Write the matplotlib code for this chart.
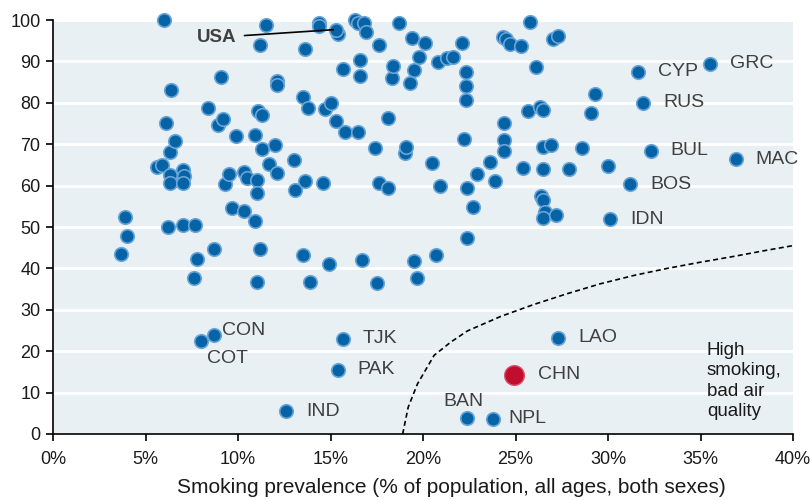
import numpy as np
import matplotlib.pyplot as plt

plt.rcParams['font.family'] = ['Liberation Sans', 'DejaVu Sans']

# smoking prevalence (%) / air quality score, unlabelled countries
smoke = [3.7, 3.9, 4.0, 5.6, 5.9, 6.0, 6.1, 6.2, 6.3, 6.3, 6.3, 6.4, 6.6,
         7.0, 7.1, 7.0, 7.0, 7.7, 7.6, 7.8,
         8.4, 8.7, 8.9, 9.1, 9.2, 9.3, 9.5, 9.7, 9.9,
         10.3, 10.3, 10.5, 10.9, 10.9, 11.0, 11.0, 11.0, 11.1, 11.2, 11.2, 11.3,
         11.3, 11.5, 11.7, 12.0, 12.1, 12.1, 12.1,
         13.0, 13.1, 13.5, 13.5, 13.6, 13.6, 13.8, 13.9, 14.4, 14.4, 14.6, 14.7,
         14.9, 15.0, 15.3, 15.4, 15.7, 15.8, 16.3, 16.5, 16.5, 16.6, 16.6, 16.7,
         16.8, 16.9,
         17.4, 17.5, 17.6, 17.6, 18.1, 18.1, 18.3, 18.4, 18.7, 19.0, 19.1, 19.3,
         19.4, 19.5, 19.5, 19.7, 19.8, 20.1, 20.5, 20.7, 20.8, 20.9,
         21.3, 21.6, 22.1, 22.2, 22.3, 22.3, 22.3, 22.4, 22.4, 22.7, 22.9, 23.6,
         23.9, 24.3, 24.4, 24.4, 24.4, 24.5, 24.7, 25.3, 25.4, 25.7, 25.8, 26.1,
         26.3, 26.4, 26.5, 26.5, 26.5, 26.5, 26.6, 26.5, 26.9, 27.0, 27.2, 27.3,
         27.9, 28.6, 29.1, 29.3, 30.0]
air = [43.4, 52.3, 47.8, 64.5, 64.9, 100.0, 75.2, 50.0, 68.2, 62.5, 60.7, 83.0, 70.8,
       63.8, 62.2, 60.7, 50.4, 50.4, 37.7, 42.3,
       78.8, 44.6, 74.7, 86.2, 76.1, 60.5, 62.9, 54.7, 72.0,
       63.3, 53.9, 61.8, 72.2, 51.4, 61.3, 58.1, 36.7, 78.0, 94.0, 44.6, 77.0,
       68.9, 98.8, 65.3, 69.9, 85.2, 84.3, 63.1,
       66.1, 58.9, 81.4, 43.3, 92.9, 61.0, 78.8, 36.7, 99.3, 98.5, 60.7, 78.6,
       41.0, 80.0, 75.6, 96.7, 88.1, 73.0, 100.0, 99.2, 73.0, 90.4, 86.5, 42.1,
       99.2, 97.2,
       69.1, 36.5, 94.0, 60.7, 76.4, 59.4, 85.9, 89.0, 99.2, 67.8, 69.4, 84.7,
       95.7, 87.9, 41.8, 37.8, 91.1, 94.5, 65.4, 43.2, 89.8, 59.9,
       90.8, 91.0, 94.5, 71.2, 87.5, 84.1, 80.7, 59.3, 47.4, 54.8, 62.9, 65.7,
       61.1, 96.0, 75.2, 71.0, 68.4, 95.5, 94.1, 93.7, 64.3, 78.0, 99.6, 88.7,
       78.9, 57.5, 78.2, 69.3, 64.1, 56.6, 53.7, 52.2, 69.8, 95.3, 53.0, 96.2,
       64.0, 69.2, 77.6, 82.1, 64.8]

# labelled countries
codes = ['CON', 'COT', 'TJK', 'PAK', 'IND', 'LAO', 'BAN', 'NPL',
         'CYP', 'GRC', 'RUS', 'BUL', 'MAC', 'BOS', 'IDN']
code_smoke = [8.7, 8.0, 15.7, 15.4, 12.6, 27.3, 22.4, 23.8,
              31.6, 35.5, 31.9, 32.3, 36.9, 31.2, 30.1]
code_air = [23.8, 22.5, 23.0, 15.5, 5.5, 23.2, 3.9, 3.7,
            87.5, 89.4, 80.0, 68.4, 66.4, 60.3, 51.9]

usa = (15.3, 97.7)
chn = (24.9, 14.3)

# dashed boundary
curve_x = [18.9, 19.2, 19.7, 20.6, 21.5, 22.4, 24.2, 26.0, 27.8, 29.6, 31.4,
           33.2, 35.0, 36.8, 38.6, 40.0]
curve_y = [0.0, 6.5, 12.1, 19.0, 22.2, 24.9, 28.4, 31.3, 33.9, 36.3, 38.3,
           40.0, 41.5, 42.9, 44.4, 45.5]

xticks = [0, 5, 10, 15, 20, 25, 30, 35, 40]
yticks = [0, 10, 20, 30, 40, 50, 60, 70, 80, 90, 100]

blue = '#0563a6'
ring = '#6aa5d8'
grey = '#404040'

fig = plt.figure(figsize=(8.11, 5.0), dpi=100)
ax = fig.add_axes([0.0654, 0.132, 0.9124, 0.828])
ax.set_facecolor('#e8f0f3')
ax.set_xlim(0, 40)
ax.set_ylim(0, 100)
ax.yaxis.grid(True, color='white', lw=2)
ax.set_axisbelow(True)
for s in ['top', 'right']:
    ax.spines[s].set_visible(False)
ax.spines['left'].set_linewidth(1.2)
ax.spines['bottom'].set_linewidth(1.2)

ax.set_xticks(xticks)
ax.set_xticklabels([f'{t}%' for t in xticks])
ax.set_yticks(yticks)
ax.tick_params(length=5, width=1.2, labelsize=13, colors='black', labelcolor='#1a1a1a')
ax.tick_params(axis='x', pad=7)
ax.tick_params(axis='y', pad=4)

ax.plot(curve_x, curve_y, color='black', ls=(0, (3, 2)), lw=1.2, zorder=2)

ax.scatter(smoke + [usa[0]] + code_smoke, air + [usa[1]] + code_air, s=95,
           color=blue, edgecolor=ring, linewidth=1.2, zorder=3, clip_on=False)
ax.scatter([chn[0]], [chn[1]], s=200, color='#c10d2e', edgecolor='#d8536a',
           linewidth=1, zorder=3)

# label offsets in pixels
offsets = {'CON': (8, 5, 'left'), 'COT': (6, -18, 'left'), 'TJK': (19, 0, 'left'),
           'PAK': (19, 0, 'left'), 'IND': (20, 0, 'left'), 'LAO': (20, 0, 'left'),
           'BAN': (-4, 16, 'center'), 'NPL': (15, 0, 'left'), 'CYP': (20, 0, 'left'),
           'GRC': (20, 0, 'left'), 'RUS': (20, 0, 'left'), 'BUL': (20, 0, 'left'),
           'MAC': (20, 0, 'left'), 'BOS': (20, 0, 'left'), 'IDN': (20, 0, 'left')}
for c, x, y in zip(codes, code_smoke, code_air):
    dx, dy, ha = offsets[c]
    ax.annotate(c, (x, y), xytext=(dx, dy), textcoords='offset pixels',
                ha=ha, va='center', fontsize=14, color=grey)
ax.annotate('CHN', chn, xytext=(24, 0), textcoords='offset pixels',
            ha='left', va='center', fontsize=14, color=grey)

ax.annotate('USA', usa, xytext=(9.9, 95.8), textcoords='data', ha='right',
            va='center', fontsize=13.5, fontweight='bold', color=grey,
            arrowprops=dict(arrowstyle='-', color='black', lw=1.2,
                            shrinkA=4, shrinkB=2))

ax.text(35.35, 22.2, 'High\nsmoking,\nbad air\nquality', ha='left', va='top',
        fontsize=13.5, color='#1a1a1a', linespacing=1.25)

ax.set_xlabel('Smoking prevalence (% of population, all ages, both sexes)',
              fontsize=15, color='#1a1a1a', va='center')
ax.xaxis.set_label_coords(0.538, -0.130)

fig.savefig('out.png', dpi=100)
